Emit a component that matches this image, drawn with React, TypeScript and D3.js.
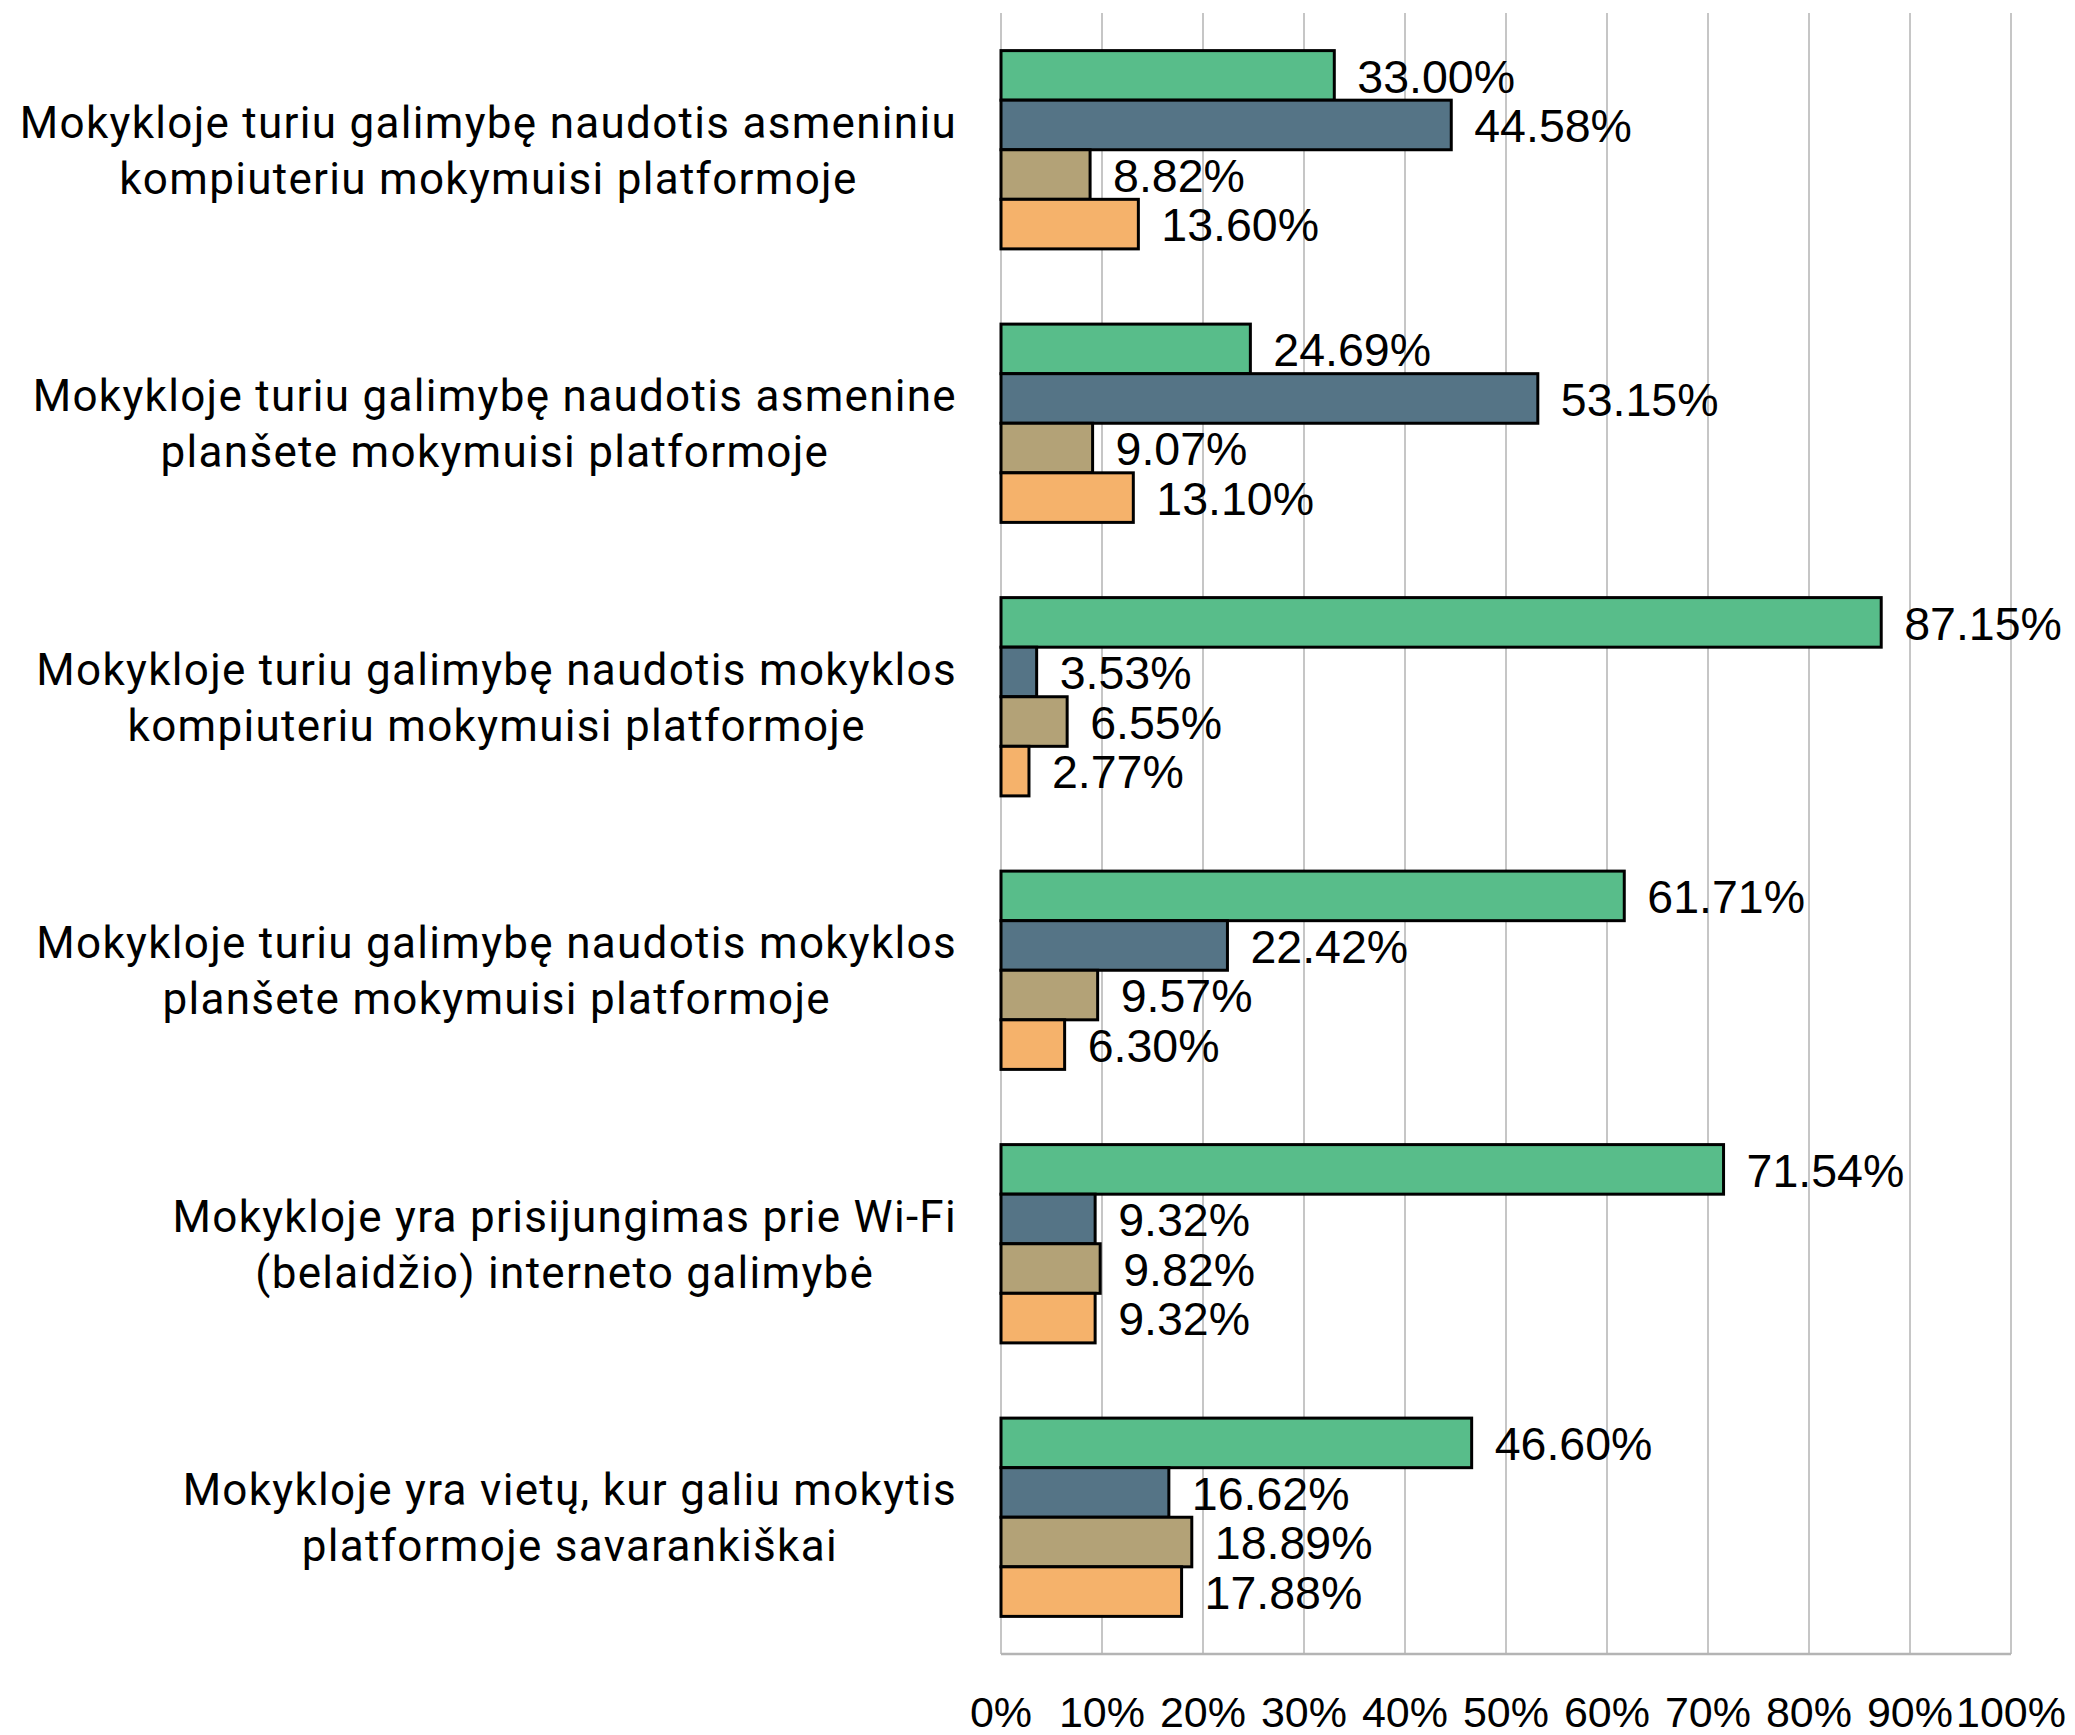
import React, { useEffect, useRef } from "react";
import * as d3 from "d3";

const categories: string[][] = [
  ["Mokykloje turiu galimybę naudotis asmeniniu", "kompiuteriu mokymuisi platformoje"],
  ["Mokykloje turiu galimybę naudotis asmenine", "planšete mokymuisi platformoje"],
  ["Mokykloje turiu galimybę naudotis mokyklos", "kompiuteriu mokymuisi platformoje"],
  ["Mokykloje turiu galimybę naudotis mokyklos", "planšete mokymuisi platformoje"],
  ["Mokykloje yra prisijungimas prie Wi-Fi", "(belaidžio) interneto galimybė"],
  ["Mokykloje yra vietų, kur galiu mokytis", "platformoje savarankiškai"],
];

const seriesNames = ["s1", "s2", "s3", "s4"];
const seriesA = [33.0, 24.69, 87.15, 61.71, 71.54, 46.6];
const seriesB = [44.58, 53.15, 3.53, 22.42, 9.32, 16.62];
const seriesC = [8.82, 9.07, 6.55, 9.57, 9.82, 18.89];
const seriesD = [13.6, 13.1, 2.77, 6.3, 9.32, 17.88];
const seriesColors = ["#58BD8A", "#557486", "#B3A277", "#F5B26B"];
const xTicks = [0, 10, 20, 30, 40, 50, 60, 70, 80, 90, 100];

const W = 2075;
const H = 1735;

export default function App() {
  const ref = useRef<SVGSVGElement | null>(null);

  useEffect(() => {
    const svg = d3.select(ref.current);
    svg.selectAll("*").remove();

    const left = 1001;
    const right = 2011;
    const top = 13;
    const bottom = 1654;
    const labelFont = "Roboto, 'Noto Sans', sans-serif";
    const numFont = "'Liberation Sans', Arial, sans-serif";

    const x = d3.scaleLinear().domain([0, 100]).range([left, right]);
    const y0 = d3
      .scaleBand<number>()
      .domain(d3.range(categories.length))
      .range([top, bottom])
      .paddingInner(0.275)
      .paddingOuter(0.1375);
    const y1 = d3
      .scaleBand<number>()
      .domain(d3.range(seriesNames.length))
      .range([0, y0.bandwidth()]);

    const allSeries = [seriesA, seriesB, seriesC, seriesD];

    // gridlines
    svg
      .append("g")
      .selectAll("line")
      .data(xTicks)
      .join("line")
      .attr("x1", (d) => x(d))
      .attr("x2", (d) => x(d))
      .attr("y1", top)
      .attr("y2", bottom)
      .attr("stroke", "#c6c6c6")
      .attr("stroke-width", 2);

    // bottom axis line
    svg
      .append("line")
      .attr("x1", left)
      .attr("x2", right)
      .attr("y1", bottom)
      .attr("y2", bottom)
      .attr("stroke", "#b4b4b4")
      .attr("stroke-width", 2.5);

    // tick labels
    svg
      .append("g")
      .selectAll("text")
      .data(xTicks)
      .join("text")
      .attr("x", (d) => x(d))
      .attr("y", 1727)
      .attr("text-anchor", "middle")
      .attr("font-family", numFont)
      .attr("font-size", 43)
      .attr("fill", "#000")
      .text((d) => `${d}%`);

    // bars
    const groups = svg
      .append("g")
      .selectAll("g")
      .data(categories.map((_, i) => i))
      .join("g")
      .attr("transform", (i) => `translate(0,${y0(i)})`);

    groups.each(function (ci) {
      const g = d3.select(this);
      allSeries.forEach((s, si) => {
        const v = s[ci];
        const by = y1(si)!;
        g.append("rect")
          .attr("x", x(0))
          .attr("y", by)
          .attr("width", x(v) - x(0))
          .attr("height", y1.bandwidth())
          .attr("fill", seriesColors[si])
          .attr("stroke", "#000")
          .attr("stroke-width", 3);
        g.append("text")
          .attr("x", x(v) + 23)
          .attr("y", by + y1.bandwidth() / 2)
          .attr("dy", "0.37em")
          .attr("font-family", numFont)
          .attr("font-size", 46.5)
          .attr("fill", "#000")
          .text(`${v.toFixed(2)}%`);
      });
    });

    // category labels
    const labelRight = 957;
    categories.forEach((lines, ci) => {
      const cy = y0(ci)! + y0.bandwidth() / 2;
      const g = svg.append("g");
      const texts = lines.map((line, li) =>
        g
          .append("text")
          .attr("y", cy + (li - (lines.length - 1) / 2) * 56)
          .attr("dy", "0.36em")
          .attr("text-anchor", "middle")
          .attr("font-family", labelFont)
          .attr("font-size", 44)
          .attr("letter-spacing", 1.3)
          .attr("fill", "#000")
          .text(line)
      );
      const maxW = Math.max(
        ...texts.map((t) => (t.node() as SVGTextElement).getComputedTextLength())
      );
      texts.forEach((t) => t.attr("x", labelRight - maxW / 2));
    });
  }, []);

  return (
    <svg
      ref={ref}
      width={W}
      height={H}
      style={{ position: "absolute", left: 0, top: 0, background: "#fff" }}
    />
  );
}
